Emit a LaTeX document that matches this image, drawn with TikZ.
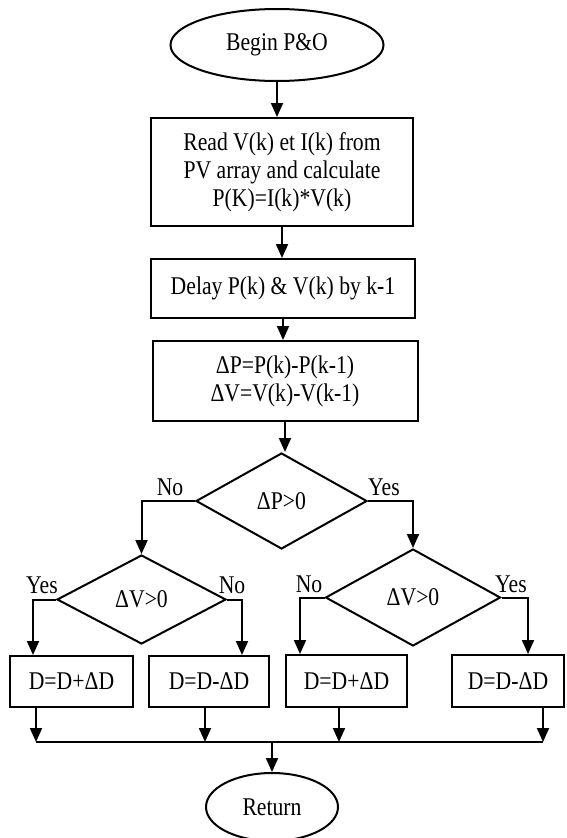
\documentclass[tikz,border=0pt]{standalone}
\usepackage{fontspec}
\setmainfont{Liberation Serif}[FakeStretch=0.85]
\usetikzlibrary{shapes.geometric,arrows.meta,calc}
\begin{document}
\begin{tikzpicture}[x=1pt,y=-1pt,
  every node/.style={font=\fontsize{25.5pt}{28pt}\selectfont},
  line/.style={line width=2pt},
  arr/.style={line width=2pt,-{Triangle[length=14pt,width=12pt]}},
  procbox/.style={draw,line width=2pt,rectangle,inner sep=0pt,align=center},
  term/.style={draw,line width=2pt,ellipse,inner sep=0pt},
  decis/.style={draw,line width=2pt,diamond,inner sep=0pt},
  lbl/.style={inner sep=0pt}]
\useasboundingbox (0,0) rectangle (566,838);
\fill[white] (0,0) rectangle (566,838);

\node[term,minimum width=213pt,minimum height=72pt] (start) at (277,45) {Begin P\&O};
\node[procbox,minimum width=262pt,minimum height=108pt] (b1) at (282,172)
  {Read V(k) et I(k) from\\PV array and calculate\\P(K)=I(k)*V(k)};
\node[procbox,minimum width=264pt,minimum height=59pt] (b2) at (283,288.5)
  {Delay P(k) \& V(k) by k-1};
\node[procbox,minimum width=265pt,minimum height=80pt] (b3) at (285,381)
  {ΔP=P(k)-P(k-1)\\ΔV=V(k)-V(k-1)};
\node[decis,minimum width=171pt,minimum height=96pt] (d1) at (281.5,501) {ΔP>0};
\node[decis,minimum width=169pt,minimum height=89pt] (d2) at (141.5,599.5) {ΔV>0};
\node[decis,minimum width=175pt,minimum height=97pt] (d3) at (413,597.5) {ΔV>0};

\node[procbox,minimum width=123pt,minimum height=51pt] (b4) at (71.5,681.5) {D=D+ΔD};
\node[procbox,minimum width=120pt,minimum height=51pt] (b5) at (209,681.5) {D=D-ΔD};
\node[procbox,minimum width=121pt,minimum height=52pt] (b6) at (346.5,681) {D=D+ΔD};
\node[procbox,minimum width=112pt,minimum height=52pt] (b7) at (508,681) {D=D-ΔD};

\node[term,minimum width=132pt,minimum height=68pt] (ret) at (272,807) {Return};

% labels
\node[lbl] (l1) at (170,487) {No};
\node[lbl] (l2) at (384,487) {Yes};
\node[lbl] (l3) at (42,585) {Yes};
\node[lbl] (l4) at (232,585) {No};
\node[lbl] (l5) at (309,584) {No};
\node[lbl] (l6) at (511,584) {Yes};

% main flow
\draw[arr] (start.south) -- (start.south |- b1.north);
\draw[arr] (b1.south) -- (b1.south |- b2.north);
\draw[arr] (b2.south) -- (b2.south |- b3.north);
\draw[arr] (b3.south) -- (b3.south |- d1.north);

% branches
\draw[arr] (d1.west) -| (d2.north);
\draw[arr] (d1.east) -| (d3.north);
\draw[arr] (d2.west) -| ([xshift=-38.5pt]b4.north);
\draw[arr] (d2.east) -| ([xshift=33pt]b5.north);
\draw[arr] (d3.west) -| ([xshift=-46.5pt]b6.north);
\draw[arr] (d3.east) -| ([xshift=20pt]b7.north);

% merging bus
\coordinate (bus1) at (36,742);
\coordinate (bus2) at (205,742);
\coordinate (bus3) at (339,742);
\coordinate (bus4) at (543,742);
\coordinate (busc) at (272,742);
\draw[arr] (b4.south -| bus1) -- (bus1);
\draw[arr] (b5.south -| bus2) -- (bus2);
\draw[arr] (b6.south -| bus3) -- (bus3);
\draw[arr] (b7.south -| bus4) -- (bus4);
\draw[line] (bus1) -- (bus4);
\draw[arr] (busc) -- (ret.north);
\end{tikzpicture}
\end{document}
